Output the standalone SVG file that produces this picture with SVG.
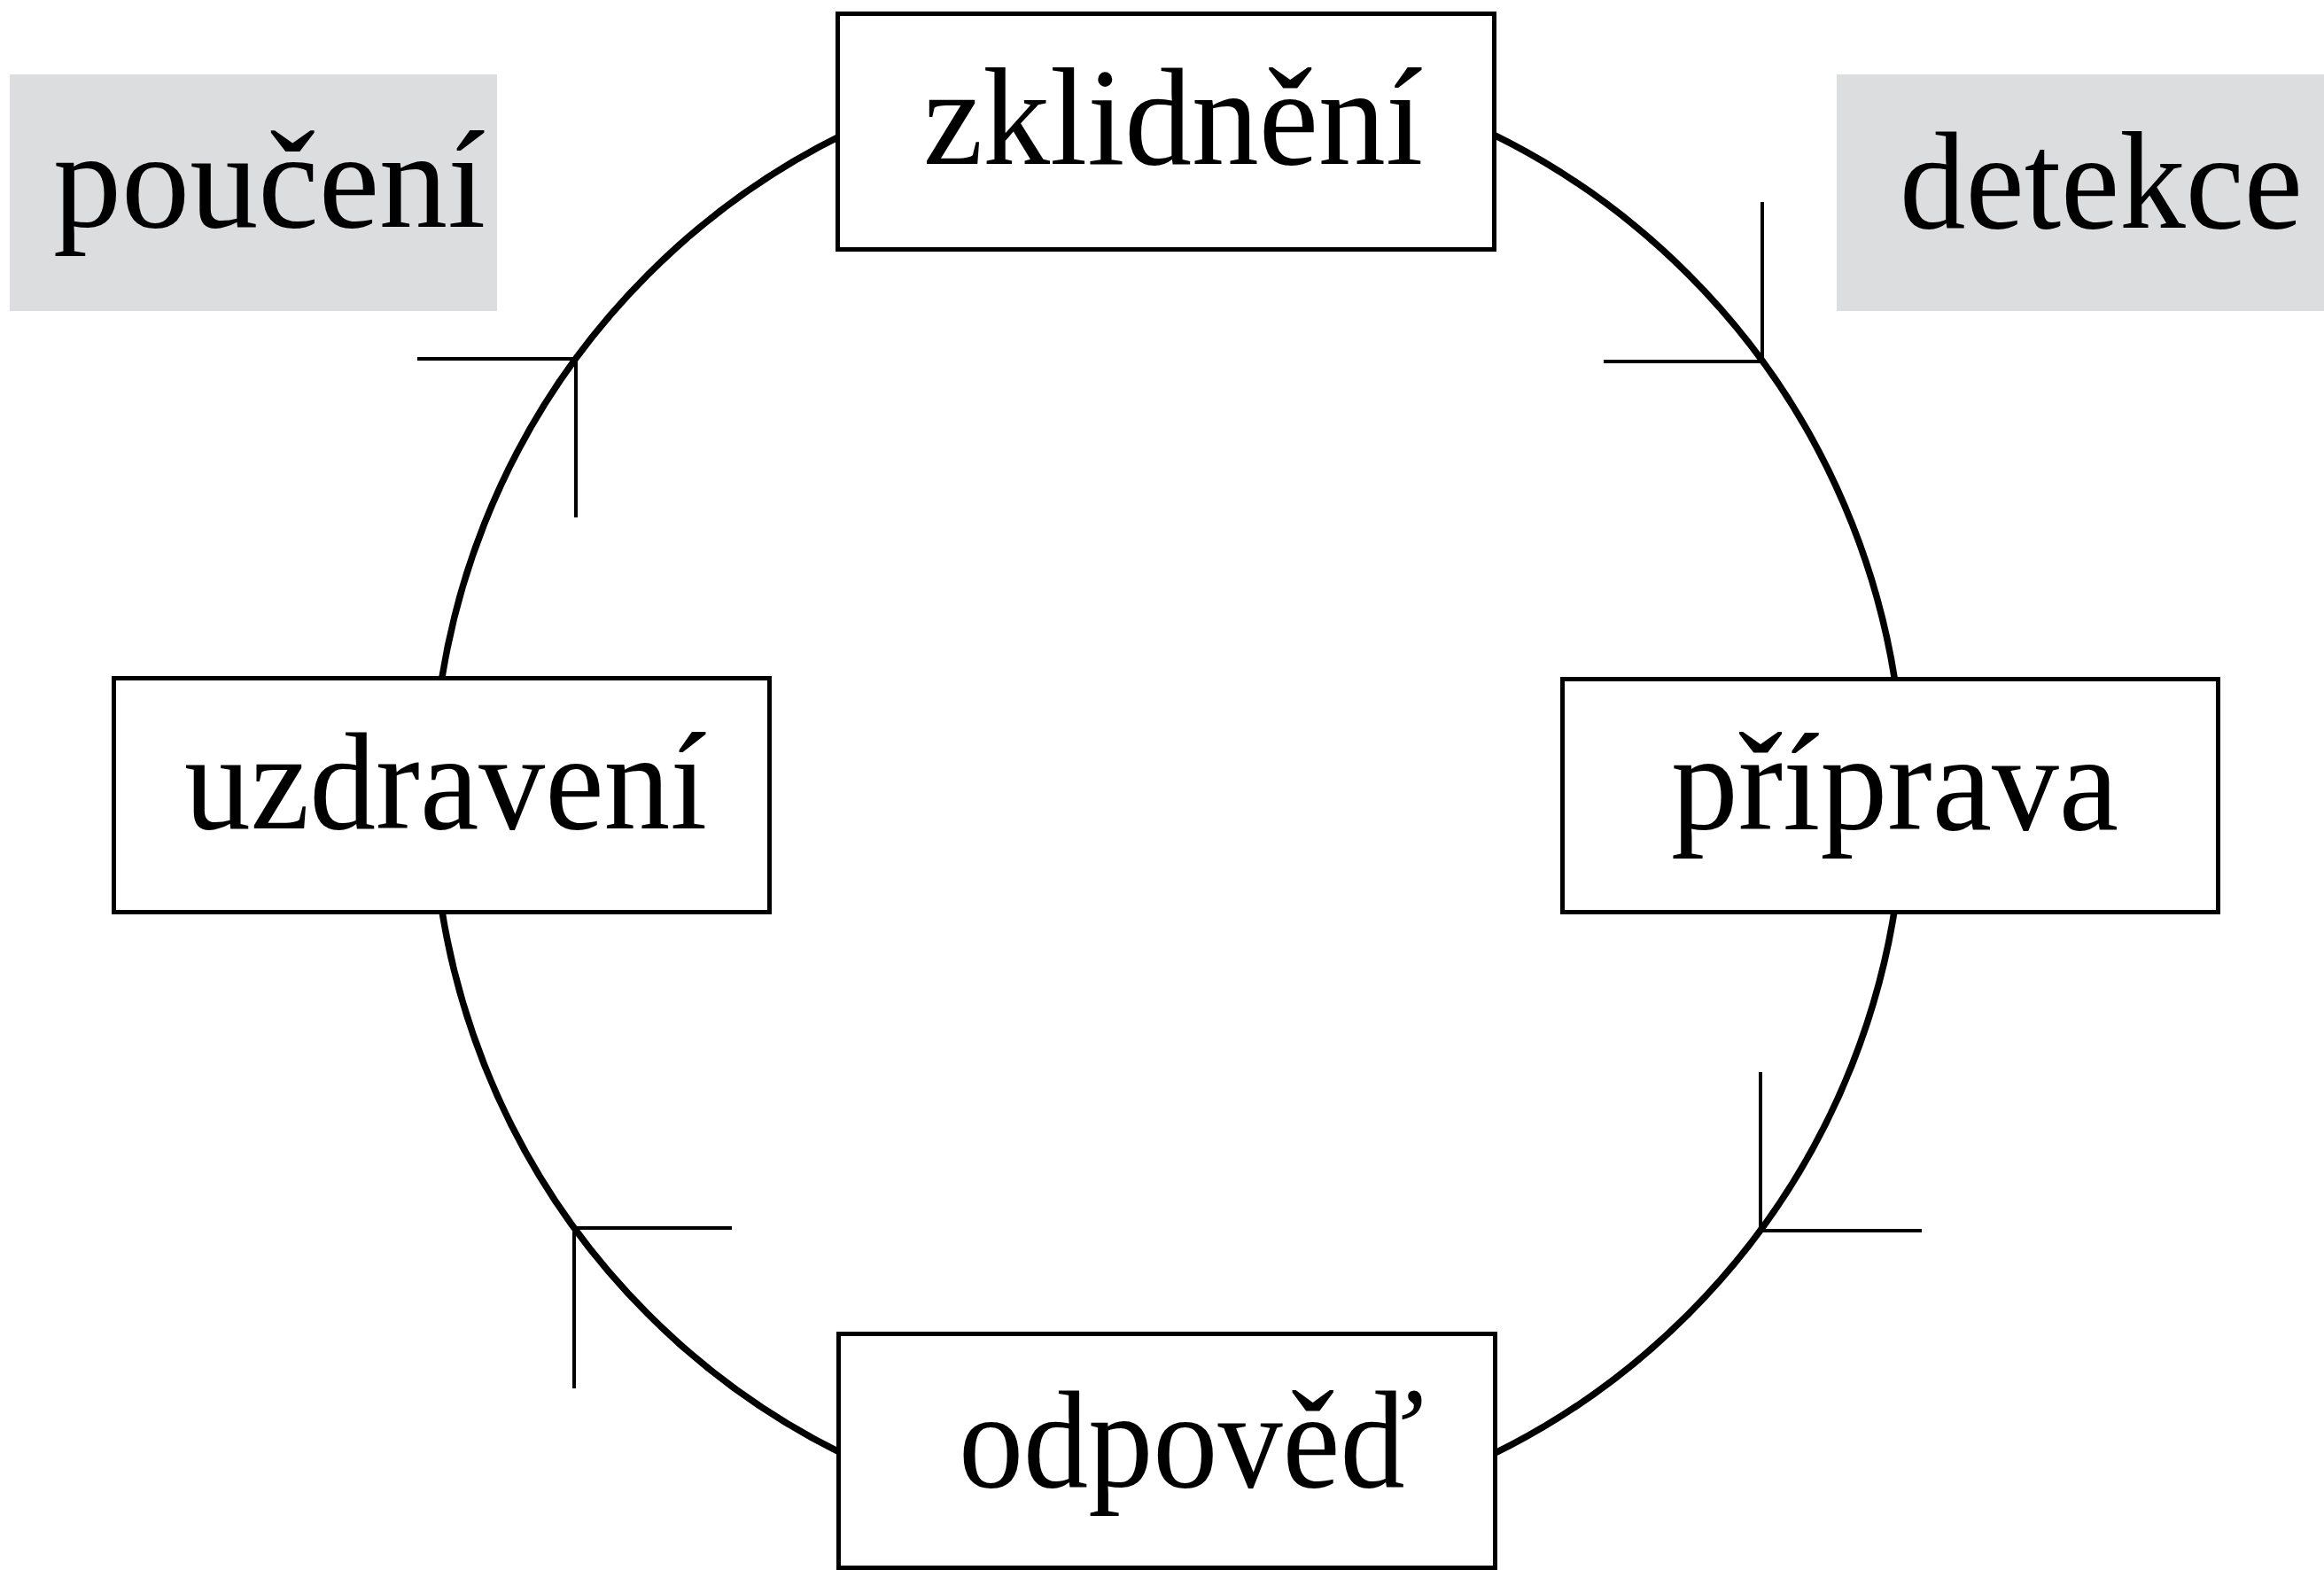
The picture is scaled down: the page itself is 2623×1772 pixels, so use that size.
<svg xmlns="http://www.w3.org/2000/svg" width="2623" height="1772" viewBox="0 0 2623 1772">
  <style>
    .stage { fill: #ffffff; stroke: #000000; stroke-width: 5; }
    .note { fill: #dcdddf; stroke: none; }
    .label { font-family: "Liberation Serif", "DejaVu Serif", serif; font-size: 156px; fill: #000000; }
    .ring { fill: none; stroke: #000000; stroke-width: 7.5; }
    .tick { fill: none; stroke: #000000; stroke-width: 4; }
  </style>
  <rect width="2623" height="1772" fill="#ffffff"/>

  <!-- cycle ring and the corner ticks -->
  <g id="connectors">
    <circle class="ring" cx="1318.5" cy="896.5" r="830"/>
    <path class="tick" d="M471,405 H650 V584"/>
    <path class="tick" d="M1989,228 V408 H1810"/>
    <path class="tick" d="M1987,1210 V1389 H2169"/>
    <path class="tick" d="M826,1386 H648 V1567"/>
  </g>

  <!-- side notes -->
  <g id="node-pouceni">
    <rect class="note" x="11" y="84" width="550" height="267"/>
    <text class="label" x="60" y="256" textLength="488" lengthAdjust="spacingAndGlyphs">poučení</text>
  </g>
  <g id="node-detekce">
    <rect class="note" x="2073" y="84" width="550" height="267"/>
    <text class="label" x="2144" y="257" textLength="455" lengthAdjust="spacingAndGlyphs">detekce</text>
  </g>

  <!-- stages on the ring -->
  <g id="node-zklidneni">
    <rect class="stage" x="945.5" y="15.5" width="741" height="266"/>
    <text class="label" x="1042" y="185" textLength="564" lengthAdjust="spacingAndGlyphs">zklidnění</text>
  </g>
  <g id="node-priprava">
    <rect class="stage" x="1763.5" y="766.5" width="740" height="263"/>
    <text class="label" x="1886" y="936" textLength="505" lengthAdjust="spacingAndGlyphs">příprava</text>
  </g>
  <g id="node-odpoved">
    <rect class="stage" x="946.5" y="1505.5" width="741" height="264"/>
    <text class="label" x="1082" y="1678" textLength="525" lengthAdjust="spacingAndGlyphs">odpověď</text>
  </g>
  <g id="node-uzdraveni">
    <rect class="stage" x="128.5" y="765.5" width="740" height="264"/>
    <text class="label" x="208" y="935" textLength="590" lengthAdjust="spacingAndGlyphs">uzdravení</text>
  </g>
</svg>
